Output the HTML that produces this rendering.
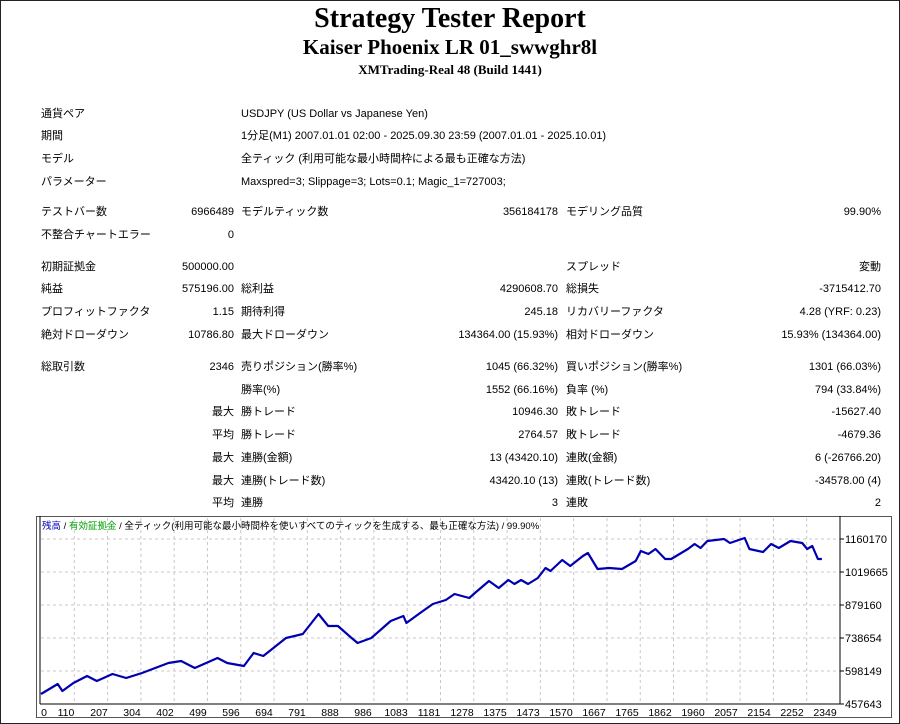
<!DOCTYPE html>
<html><head><meta charset="utf-8">
<style>
html,body{margin:0;padding:0;background:#fff;}
#page{position:relative;width:898px;height:722px;border:1px solid #222;overflow:hidden;font-family:"Liberation Sans","Noto Sans CJK JP",sans-serif;font-size:11px;color:#000;}
.t{position:absolute;white-space:nowrap;line-height:14px;}
.r{text-align:right;}
h1,h2,h3{position:absolute;left:0;width:898px;margin:0;text-align:center;font-family:"Liberation Serif",serif;font-weight:bold;color:#000;}
</style></head>
<body>
<div id="page">
<h1 style="top:2px;font-size:28px;">Strategy Tester Report</h1>
<h2 style="top:34px;font-size:21px;">Kaiser Phoenix LR 01_swwghr8l</h2>
<h3 style="top:61px;font-size:13px;">XMTrading-Real 48 (Build 1441)</h3>
<div id="tbl"></div>
<div id="chartbox" style="position:absolute;left:35px;top:515px;width:854px;height:200px;border:1px solid #555;"></div>
<svg id="chart" width="900" height="724" style="position:absolute;left:-1px;top:-1px;"></svg>
</div>
<script>
// chart data
const trades = [0,50,64,97,138,167,214,255,302,381,419,460,528,557,607,636,665,733,783,830,859,888,929,947,988,1046,1084,1093,1134,1172,1211,1237,1281,1298,1340,1369,1398,1416,1436,1457,1486,1509,1524,1559,1583,1621,1636,1665,1700,1738,1779,1794,1817,1838,1867,1885,1935,1955,1973,1993,2043,2061,2105,2119,2160,2184,2207,2242,2277,2292,2307,2324,2336];
const balance = [500220,542800,512990,547050,576860,555570,585370,568340,589630,632210,640720,610920,653500,632210,619440,674780,662010,738650,755680,840840,789740,789740,738650,717360,738650,811030,832320,802520,845100,883410,900450,925990,908960,930250,981340,951540,985600,968570,985600,968570,994110,1036690,1023920,1070760,1045200,1087780,1100550,1032430,1036690,1032430,1066500,1109080,1096300,1117580,1074990,1074990,1117580,1138870,1121840,1151650,1160170,1143130,1164420,1117580,1104810,1138870,1121840,1151650,1143130,1117580,1130360,1074990,1074990];
const yTicks = [457643,598149,738654,879160,1019665,1160170];
const xTicks = [0,110,207,304,402,499,596,694,791,888,986,1083,1181,1278,1375,1473,1570,1667,1765,1862,1960,2057,2154,2252,2349];

const rows = [
 [113,"通貨ペア",null,"USDJPY (US Dollar vs Japanese Yen)"],
 [135,"期間",null,"1分足(M1) 2007.01.01 02:00 - 2025.09.30 23:59 (2007.01.01 - 2025.10.01)"],
 [158,"モデル",null,"全ティック (利用可能な最小時間枠による最も正確な方法)"],
 [181,"パラメーター",null,"Maxspred=3; Slippage=3; Lots=0.1; Magic_1=727003;"]
];
const grid = [
 [211,"テストバー数","6966489","モデルティック数","356184178","モデリング品質","99.90%"],
 [234,"不整合チャートエラー","0"],
 [266,"初期証拠金","500000.00","","","スプレッド","変動"],
 [288,"純益","575196.00","総利益","4290608.70","総損失","-3715412.70"],
 [311,"プロフィットファクタ","1.15","期待利得","245.18","リカバリーファクタ","4.28 (YRF: 0.23)"],
 [334,"絶対ドローダウン","10786.80","最大ドローダウン","134364.00 (15.93%)","相対ドローダウン","15.93% (134364.00)"],
 [366,"総取引数","2346","売りポジション(勝率%)","1045 (66.32%)","買いポジション(勝率%)","1301 (66.03%)"],
 [389,"","","勝率(%)","1552 (66.16%)","負率 (%)","794 (33.84%)"],
 [411,"","最大","勝トレード","10946.30","敗トレード","-15627.40"],
 [434,"","平均","勝トレード","2764.57","敗トレード","-4679.36"],
 [457,"","最大","連勝(金額)","13 (43420.10)","連敗(金額)","6 (-26766.20)"],
 [480,"","最大","連勝(トレード数)","43420.10 (13)","連敗(トレード数)","-34578.00 (4)"],
 [502,"","平均","連勝","3","連敗","2"]
];
const tbl = document.getElementById('tbl');
function addText(parent, txt, x, y, right, w){
  const d = document.createElement('div');
  d.className = 't' + (right ? ' r' : '');
  d.textContent = txt;
  d.style.top = (y - 7) + 'px';
  if (right) { d.style.left = (x - w) + 'px'; d.style.width = w + 'px'; }
  else d.style.left = x + 'px';
  parent.appendChild(d);
  return d;
}
rows.forEach(r => {
  let a = addText(tbl, r[1], 40, r[0], false);
  
  
  let b = addText(tbl, r[3], 240, r[0], false);
  
  
});
grid.forEach(r => {
  const y = r[0];
  const cols = [[40,false,200],[233,true,190],[240,false,200],[557,true,200],[565,false,200],[880,true,200]];
  for (let i = 1; i < r.length; i++) {
    if (!r[i]) continue;
    const c = cols[i-1];
    const d = addText(tbl, r[i], c[0], y, c[1], c[2]);
    
    
  }
});

// chart
const svg = document.getElementById('chart');
const NS = 'http://www.w3.org/2000/svg';
const X0 = 41, X1 = 840, TRADE_MAX = 2390;
const Y0 = 704, YMIN = 457643, YSTEP = 140505, YPX = 33;
const xs = t => X0 + t / TRADE_MAX * (X1 - X0);
const ys = v => Y0 - (v - YMIN) / YSTEP * YPX;
function el(tag, attrs){ const e = document.createElementNS(NS, tag); for (const k in attrs) e.setAttribute(k, attrs[k]); svg.appendChild(e); return e; }
yTicks.forEach((v, i) => {
  const y = ys(v);
  if (i > 0) {
    const g = el('line', {x1: X0, x2: X1, y1: y, y2: y, stroke: '#c8c8c8', 'stroke-dasharray': '3,3'});
    
    
  }
  const tk = el('line', {x1: X1, x2: X1 + 4, y1: y, y2: y, stroke: '#000'});
  
  
  const t = el('text', {x: X1 + 5, y: y + 4, 'font-size': 11, 'font-family': 'Liberation Sans, sans-serif'});
  t.textContent = v;
  
  
});
xTicks.forEach((v, i) => {
  const x = X0 + i * (X1 - X0) / 24;
  if (i > 0) {
    const g = el('line', {x1: x, x2: x, y1: 518, y2: Y0, stroke: '#c8c8c8', 'stroke-dasharray': '3,3'});
    
    
  }
  const lx = i === 0 ? 44 : 66 + (i - 1) * 33;
  const t = el('text', {x: lx, y: 716, 'font-size': 10.5, 'text-anchor': 'middle', 'font-family': 'Liberation Sans, sans-serif'});
  t.textContent = v;
  
  
});
const ax1 = el('line', {x1: X0 - 1, x2: X0 - 1, y1: 516, y2: Y0, stroke: '#000'});


const ax2 = el('line', {x1: X1, x2: X1, y1: 516, y2: Y0, stroke: '#000'});


const ax3 = el('line', {x1: X0 - 1, x2: X1, y1: Y0, y2: Y0, stroke: '#000'});


const pts = trades.map((t, i) => xs(t).toFixed(1) + ',' + ys(balance[i]).toFixed(1)).join(' ');
const line = el('polyline', {points: pts, fill: 'none', stroke: '#0000b0', 'stroke-width': 2.2, 'stroke-linejoin': 'round'});


// legend
const lg = el('text', {x: 42, y: 529, 'font-size': 9.5, 'font-family': 'Liberation Sans, Noto Sans CJK JP, sans-serif'});


[['残高','#0000c0'],[' / ','#000'],['有効証拠金','#00a000'],[' / 全ティック(利用可能な最小時間枠を使いすべてのティックを生成する、最も正確な方法) / 99.90%','#000']].forEach(p => {
  const s = document.createElementNS(NS, 'tspan');
  s.setAttribute('fill', p[1]);
  s.textContent = p[0];
  lg.appendChild(s);
});
</script>
</body></html>
